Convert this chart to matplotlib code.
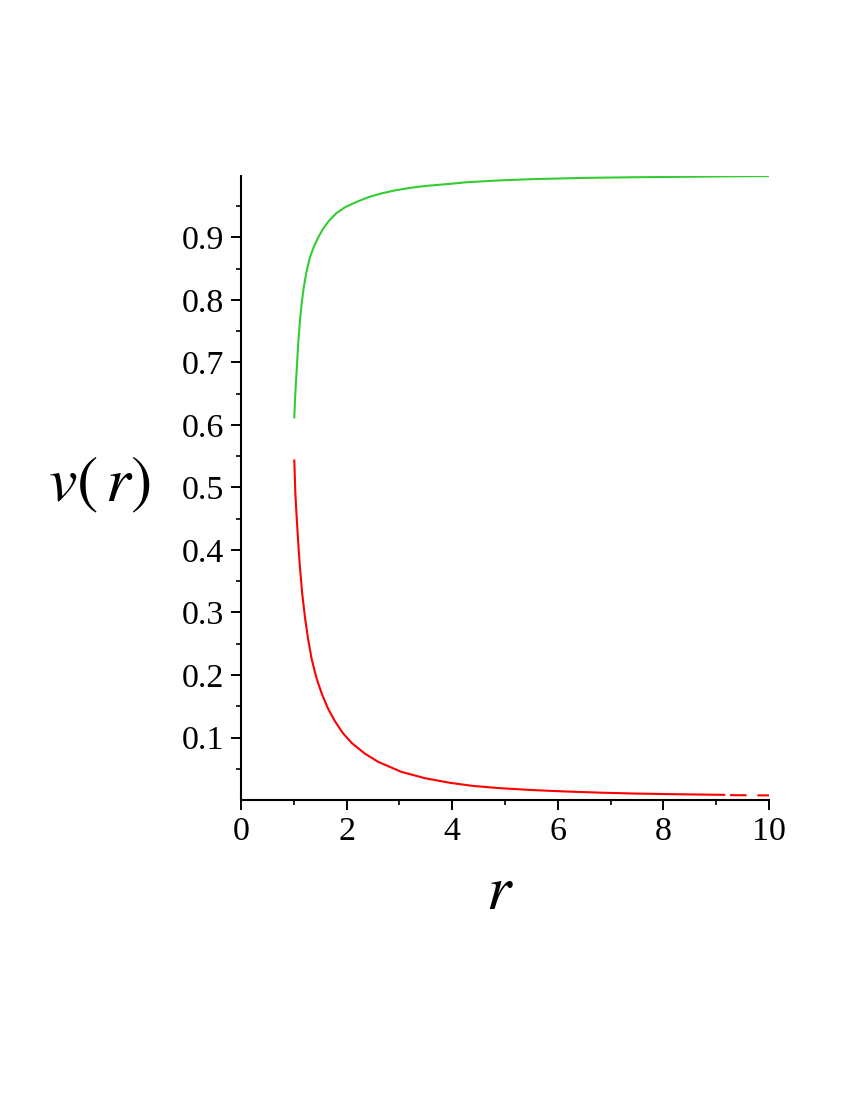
import matplotlib.pyplot as plt
from matplotlib.ticker import FixedLocator

plt.rcParams['font.family'] = 'Liberation Serif'
plt.rcParams['mathtext.fontset'] = 'stix'

# values
r_green = [1.01, 1.025, 1.04, 1.055, 1.08, 1.117, 1.15, 1.19, 1.24, 1.307, 1.38, 1.464, 1.55,
           1.653, 1.8, 1.97, 2.2, 2.41, 2.65, 2.92, 3.2, 3.48, 3.9, 4.27, 4.9,
           5.54, 6.5, 7.43, 8.7, 10.0]
v_green = [0.612, 0.643, 0.667, 0.687, 0.725, 0.767, 0.795, 0.820, 0.845, 0.868, 0.885, 0.900, 0.913,
           0.925, 0.938, 0.948, 0.957, 0.964, 0.970, 0.975, 0.979, 0.982, 0.985, 0.988, 0.991,
           0.993, 0.995, 0.996, 0.997, 0.998]

r_red = [1.01, 1.03, 1.055, 1.085, 1.117, 1.16, 1.212, 1.27, 1.34, 1.43, 1.53,
         1.65, 1.78, 1.93, 2.10, 2.35, 2.60, 3.04, 3.48, 3.96, 4.4, 4.9, 5.5, 6.17, 6.8, 7.43,
         8.3, 9.15]
v_red = [0.543, 0.49, 0.452, 0.41, 0.372, 0.33, 0.292, 0.258, 0.225, 0.195, 0.170,
         0.146, 0.126, 0.107, 0.091, 0.074, 0.061, 0.045, 0.035, 0.0275, 0.0225, 0.019, 0.016, 0.0136, 0.0118, 0.0104,
         0.0092, 0.0083]

# dashed tail of the red curve
r_red_tail = [9.26, 10.0]
v_red_tail = [0.0078, 0.0074]

x_ticks = [0, 2, 4, 6, 8, 10]
y_ticks = [0.1, 0.2, 0.3, 0.4, 0.5, 0.6, 0.7, 0.8, 0.9]

fig = plt.figure(figsize=(8.5, 11), dpi=100)
ax = fig.add_axes([0.2835, 0.2727, 0.6212, 0.5673])

ax.plot(r_green, v_green, color='#32CD32', lw=1.5)
ax.plot(r_red, v_red, color='#FF0000', lw=1.5)
ax.plot(r_red_tail, v_red_tail, color='#FF0000', lw=1.5, dashes=(8.0, 5.2))

ax.set_xlim(0, 10)
ax.set_ylim(0, 0.998)

ax.spines['top'].set_visible(False)
ax.spines['right'].set_visible(False)
for s in ['left', 'bottom']:
    ax.spines[s].set_linewidth(1.5)

ax.set_xticks(x_ticks)
ax.set_xticklabels([str(t) for t in x_ticks])
ax.set_yticks(y_ticks)
ax.set_yticklabels([str(t) for t in y_ticks])
ax.xaxis.set_minor_locator(FixedLocator([1, 3, 5, 7, 9]))
ax.yaxis.set_minor_locator(FixedLocator([0.05 + 0.1 * i for i in range(10)]))

ax.tick_params(which='major', direction='out', length=7, width=1.4,
               labelsize=24.5, pad=5)
ax.tick_params(which='minor', direction='out', length=3.5, width=1.2)

fig.text(0.117, 0.559, r'$v(\,r)$', fontsize=46, ha='center', va='center')
fig.text(0.588, 0.187, r'$r$', fontsize=45, ha='center', va='center')

fig.savefig('out.png', dpi=100)
